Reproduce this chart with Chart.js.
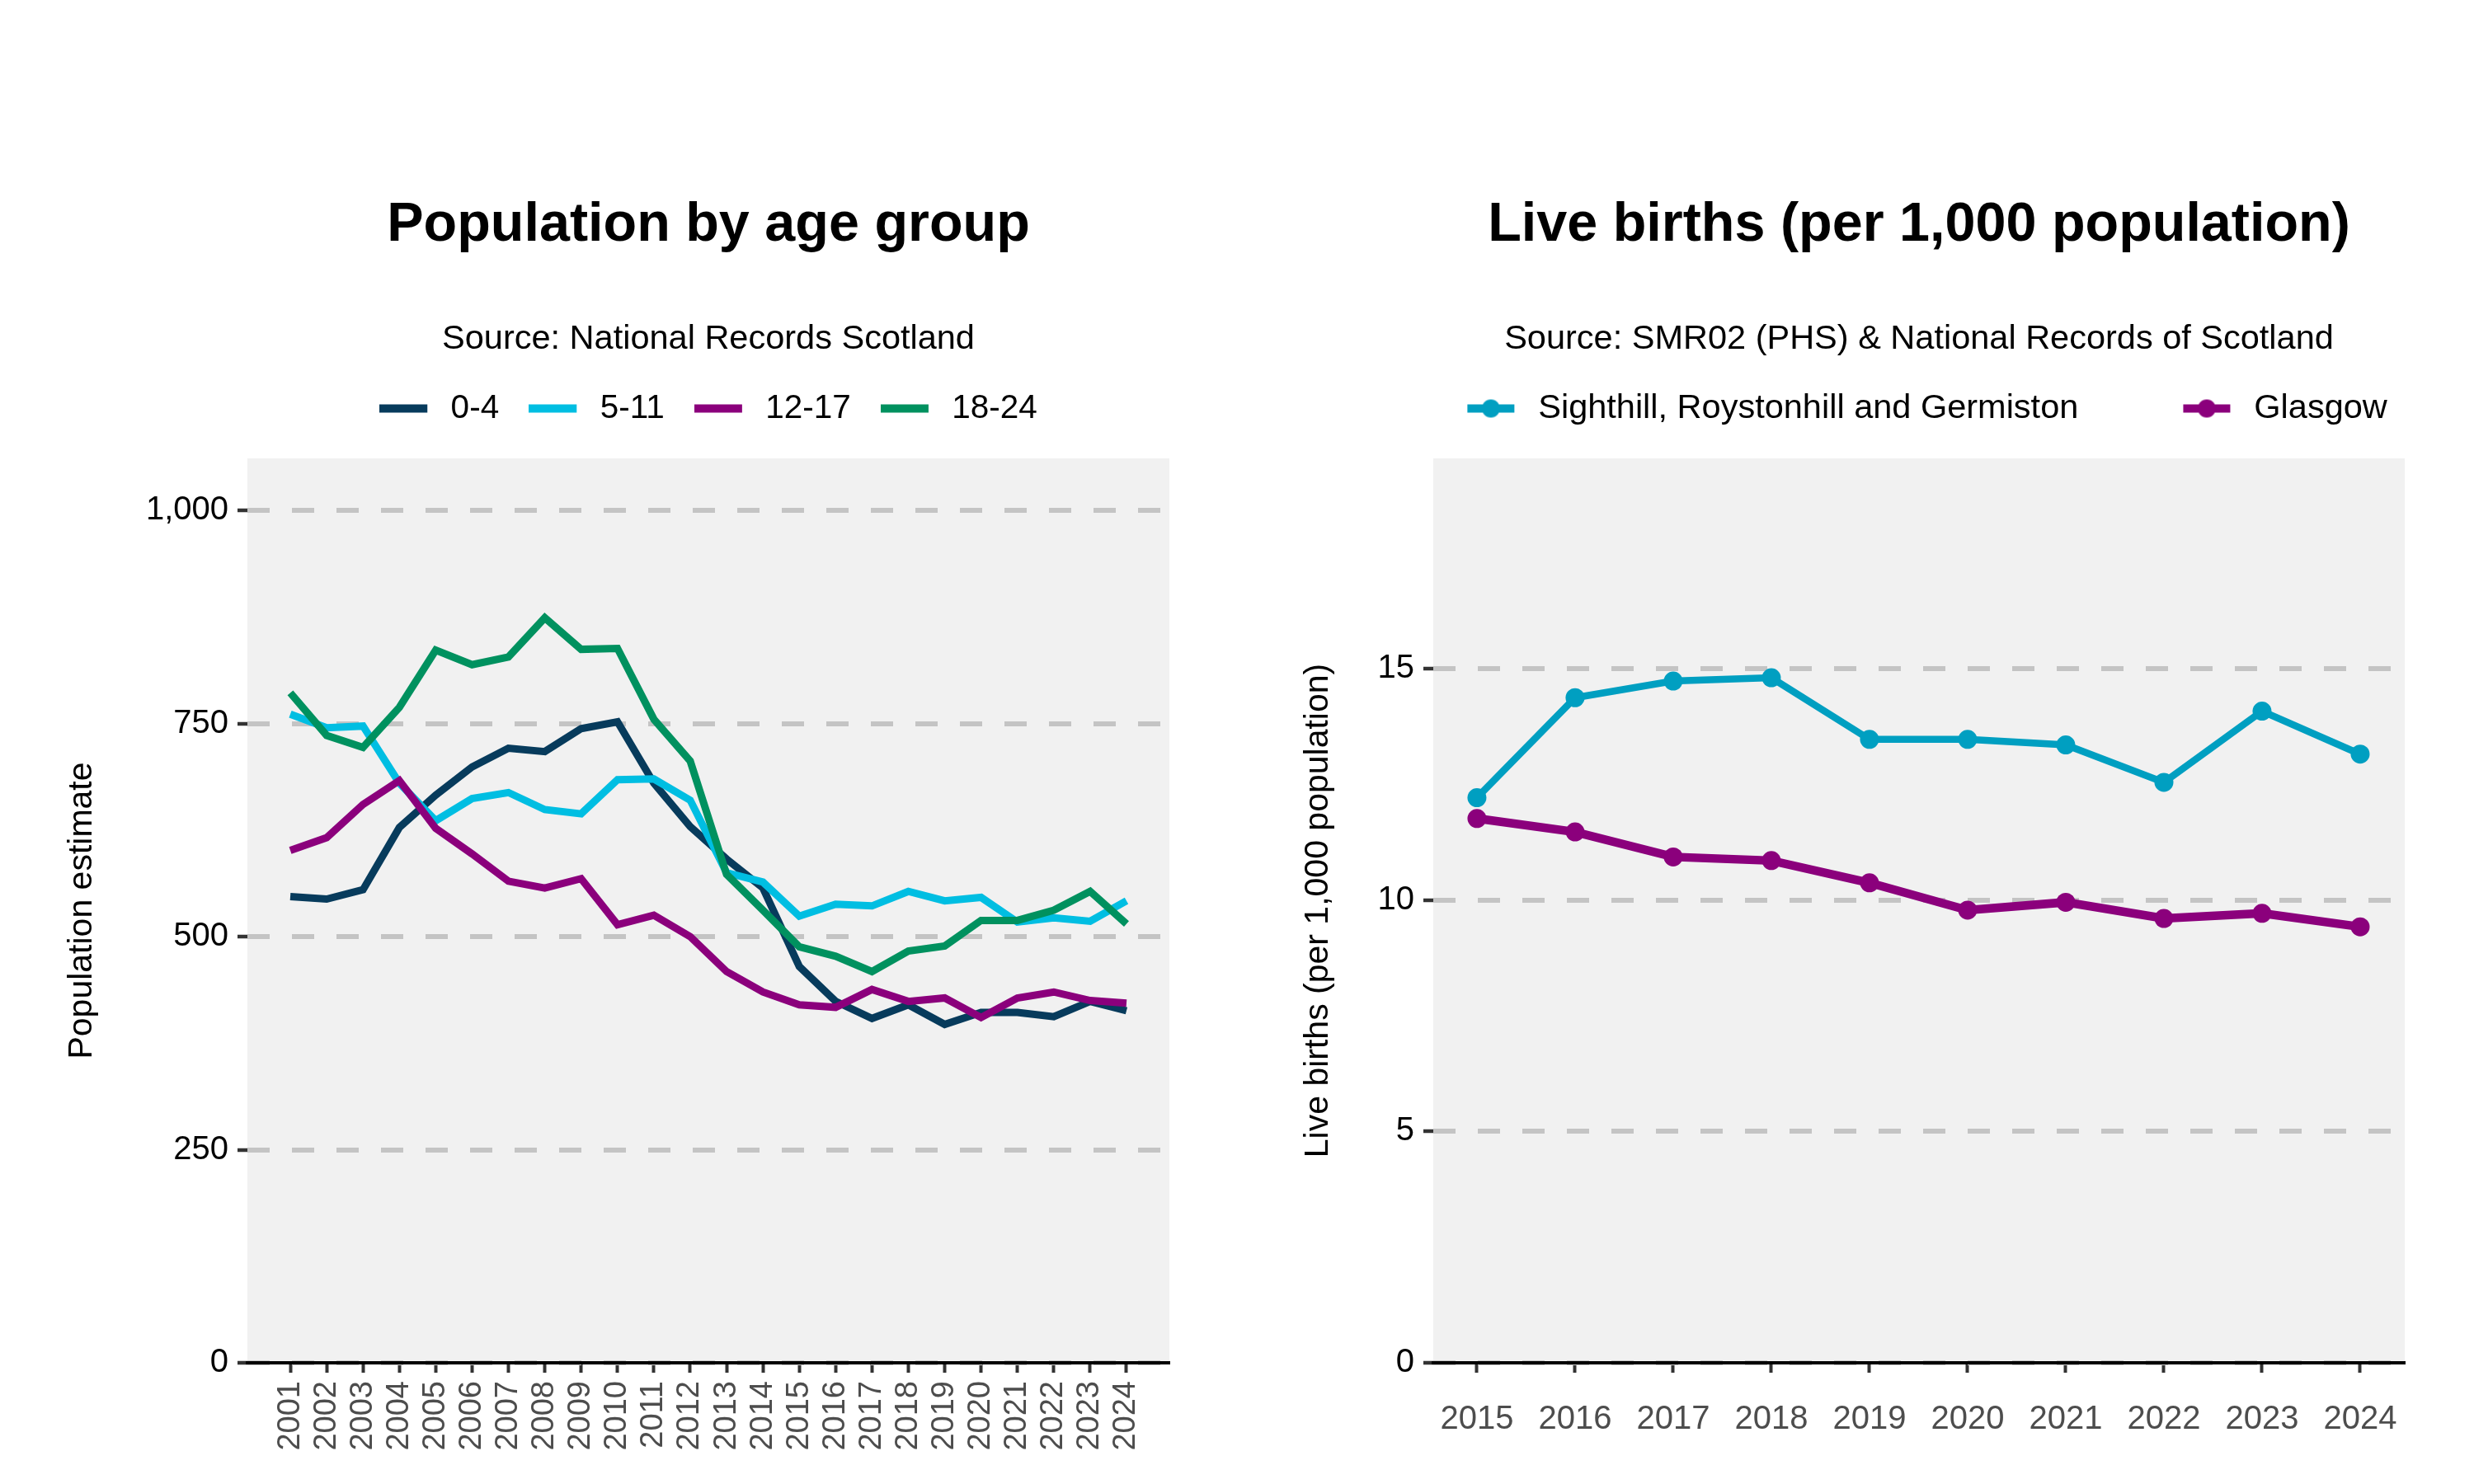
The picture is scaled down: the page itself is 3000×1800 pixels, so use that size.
<!DOCTYPE html>
<html>
<head>
<meta charset="utf-8">
<script src="https://cdn.jsdelivr.net/npm/chart.js@4.4.1/dist/chart.umd.min.js"></script>
<style>
html, body { margin: 0; padding: 0; background: #ffffff; width: 3000px; height: 1800px; overflow: hidden; }
canvas { position: absolute; top: 0; }
#popChart { left: 0; }
#birthChart { left: 1500px; }
</style>
</head>
<body>
<canvas id="popChart" width="1500" height="1800"></canvas>
<canvas id="birthChart" width="1500" height="1800"></canvas>
<script>
// ---------------- Data: Population by age group ----------------
const popYears = [2001, 2002, 2003, 2004, 2005, 2006, 2007, 2008, 2009, 2010, 2011, 2012,
                  2013, 2014, 2015, 2016, 2017, 2018, 2019, 2020, 2021, 2022, 2023, 2024];
const popSeriesNames = ['0-4', '5-11', '12-17', '18-24'];
const pop0to4   = [547, 544, 555, 628, 666, 699, 721, 717, 744, 752, 680, 629, 591, 557, 465, 424, 404, 420, 397, 411, 411, 406, 424, 413];
const pop5to11  = [761, 745, 747, 680, 636, 662, 669, 649, 644, 684, 685, 660, 575, 564, 524, 538, 536, 553, 542, 546, 517, 522, 518, 542];
const pop12to17 = [601, 616, 655, 683, 627, 597, 565, 557, 568, 514, 525, 500, 459, 435, 420, 417, 438, 424, 428, 405, 428, 435, 425, 422];
const pop18to24 = [786, 736, 722, 769, 836, 819, 828, 874, 837, 838, 755, 706, 573, 531, 488, 477, 459, 483, 489, 519, 519, 531, 553, 515];
const popYTicks = [0, 250, 500, 750, 1000];
const popYTickLabels = ['0', '250', '500', '750', '1,000'];

// ---------------- Data: Live births ----------------
const birthYears = [2015, 2016, 2017, 2018, 2019, 2020, 2021, 2022, 2023, 2024];
const birthSeriesNames = ['Sighthill, Roystonhill and Germiston', 'Glasgow'];
const birthsSighthill = [12.21, 14.37, 14.73, 14.80, 13.47, 13.47, 13.35, 12.54, 14.08, 13.15];
const birthsGlasgow   = [11.76, 11.47, 10.93, 10.85, 10.37, 9.78, 9.95, 9.60, 9.71, 9.42];
const birthYTicks = [0, 5, 10, 15];
const birthYTickLabels = ['0', '5', '10', '15'];

// ---------------- Styling ----------------
const FONT = "'Liberation Sans', Arial, Helvetica, sans-serif";
const popColors = ['#073b5c', '#00bee2', '#8b007c', '#00915f'];
const birthColors = ['#009fc1', '#8b007c'];

function lineIcon(color, w, lineStart, lineLen, h, thick, dotR) {
  const c = document.createElement('canvas');
  c.width = w; c.height = h;
  const g = c.getContext('2d');
  g.fillStyle = color;
  g.fillRect(lineStart, (h - thick) / 2, lineLen, thick);
  if (dotR) { g.beginPath(); g.arc(lineStart + lineLen / 2, h / 2, dotR, 0, Math.PI * 2); g.fill(); }
  return c;
}
function blankIcon() { const c = document.createElement('canvas'); c.width = 1; c.height = 1; return c; }

const panelBg = {
  id: 'panelBg',
  beforeDraw(chart) {
    const a = chart.chartArea, ctx = chart.ctx;
    ctx.save();
    ctx.fillStyle = '#f1f1f1';
    ctx.fillRect(a.left, a.top, a.right - a.left, a.bottom - a.top);
    ctx.restore();
  }
};

function toXY(xs, ys) { return xs.map((x, i) => ({ x: x, y: ys[i] })); }

function makeOptions(cfg) {
  return {
    responsive: false,
    animation: false,
    devicePixelRatio: 1,
    events: [],
    layout: { padding: { top: 0, left: 0, right: cfg.padRight, bottom: 0 } },
    plugins: {
      tooltip: { enabled: false },
      title: {
        display: true, text: cfg.title, color: '#000', fullSize: false,
        font: { family: FONT, size: 66.5, weight: 'bold', lineHeight: 1.2 },
        padding: { top: 234.1, bottom: 0 }
      },
      subtitle: {
        display: true, text: cfg.subtitle, color: '#000', fullSize: false,
        font: { family: FONT, size: 41.5, weight: 'normal', lineHeight: 1.2 },
        padding: { top: 72.7, bottom: cfg.subPadBottom }
      },
      legend: {
        display: true, position: 'top', fullSize: false,
        labels: {
          usePointStyle: true, pointStyleWidth: cfg.boxW, padding: cfg.legendPad,
          color: '#000', font: { family: FONT, size: cfg.legendFont },
          generateLabels: cfg.gen
        }
      }
    },
    scales: {
      x: {
        type: 'linear', position: 'bottom', min: cfg.xMin, max: cfg.xMax,
        afterBuildTicks: s => { s.ticks = cfg.xTicks.map(v => ({ value: v })); },
        afterFit: s => { s.height = 147; },
        grid: { display: true, drawOnChartArea: false, drawTicks: true, tickLength: 12, tickColor: '#333333', tickWidth: 4, lineWidth: 1 },
        border: { display: true, color: '#000000', width: 4 },
        ticks: {
          autoSkip: false, minRotation: cfg.xRot, maxRotation: cfg.xRot, padding: cfg.xPad,
          color: '#4d4d4d', font: { family: FONT, size: cfg.xFont },
          callback: v => String(v)
        }
      },
      y: {
        type: 'linear', position: 'left', min: 0, max: cfg.yMax,
        afterBuildTicks: s => { s.ticks = cfg.yTicks.map(v => ({ value: v })); },
        afterFit: s => { s.width = cfg.yWidth; },
        grid: { display: true, color: '#c4c4c4', lineWidth: 6, drawTicks: true, tickLength: 12, tickColor: '#333333', tickWidth: 4.5 },
        border: { display: false, dash: [27, 27] },
        ticks: {
          padding: 11, color: '#000', font: { family: FONT, size: 40 },
          callback: v => cfg.yLabels[cfg.yTicks.indexOf(v)]
        },
        title: {
          display: true, text: cfg.yTitle, color: '#000',
          font: { family: FONT, size: 41, lineHeight: 1.2 },
          padding: { top: cfg.yTitlePad, bottom: 0 }
        }
      },
      gap: {
        type: 'linear', position: 'top', display: true,
        grid: { display: false }, border: { display: false }, ticks: { display: false },
        afterFit: s => { s.height = cfg.gapH; }
      }
    }
  };
}

// ---------------- Chart 1: Population by age group ----------------
const popSeries = [pop0to4, pop5to11, pop12to17, pop18to24];
const popIcons = popColors.map(c => lineIcon(c, 66, 0, 58, 12, 10, 0));
new Chart(document.getElementById('popChart'), {
  type: 'line',
  data: {
    datasets: popSeriesNames.map((name, i) => ({
      label: name,
      data: toXY(popYears, popSeries[i]),
      borderColor: popColors[i],
      backgroundColor: popColors[i],
      borderWidth: 9,
      pointRadius: 0,
      fill: false,
      tension: 0,
      order: popSeriesNames.length - i
    }))
  },
  options: makeOptions({
    padRight: 82,
    title: 'Population by age group',
    subtitle: 'Source: National Records Scotland',
    subPadBottom: 2.85,
    boxW: 66.25,
    legendPad: 36,
    legendFont: 40.5,
    gapH: 30.25,
    gen: chart => chart.data.datasets.map((ds, i) => ({
      text: ds.label, fillStyle: ds.borderColor, strokeStyle: ds.borderColor, lineWidth: 0,
      pointStyle: popIcons[i], hidden: false, datasetIndex: i, fontColor: '#000'
    })),
    xMin: 1999.82, xMax: 2025.18, xTicks: popYears, xRot: 90, xPad: 10, xFont: 38,
    yMax: 1061, yTicks: popYTicks, yLabels: popYTickLabels, yWidth: 300,
    yTitle: 'Population estimate', yTitlePad: 75
  }),
  plugins: [panelBg]
});

// ---------------- Chart 2: Live births ----------------
const birthSeries = [birthsSighthill, birthsGlasgow];
const birthLineWidths = [8.5, 10.5];
const birthIcons = birthColors.map(c => lineIcon(c, 85, 20, 57, 24, 10, 11));
new Chart(document.getElementById('birthChart'), {
  type: 'line',
  data: {
    datasets: birthSeriesNames.map((name, i) => ({
      label: name,
      data: toXY(birthYears, birthSeries[i]),
      borderColor: birthColors[i],
      backgroundColor: birthColors[i],
      pointBackgroundColor: birthColors[i],
      pointBorderWidth: 0,
      pointRadius: 11.5,
      borderWidth: birthLineWidths[i],
      fill: false,
      tension: 0,
      order: birthSeriesNames.length - i
    }))
  },
  options: makeOptions({
    padRight: 84,
    title: 'Live births (per 1,000 population)',
    subtitle: 'Source: SMR02 (PHS) & National Records of Scotland',
    subPadBottom: 37.85,
    boxW: 85.25,
    legendPad: 0.5,
    legendFont: 41.5,
    gapH: 29.75,
    gen: chart => {
      const items = chart.data.datasets.map((ds, i) => ({
        text: ds.label, fillStyle: ds.borderColor, strokeStyle: ds.borderColor, lineWidth: 0,
        pointStyle: birthIcons[i], hidden: false, datasetIndex: i, fontColor: '#000'
      }));
      items.splice(1, 0, { text: '', fillStyle: 'rgba(0,0,0,0)', strokeStyle: 'rgba(0,0,0,0)', lineWidth: 0,
        pointStyle: blankIcon(), hidden: false, fontColor: '#000' });
      return items;
    },
    xMin: 2014.555, xMax: 2024.454, xTicks: birthYears, xRot: 0, xPad: 32.5, xFont: 40,
    yMax: 19.54, yTicks: birthYTicks, yLabels: birthYTickLabels, yWidth: 238,
    yTitle: 'Live births (per 1,000 population)', yTitlePad: 74.4
  }),
  plugins: [panelBg]
});
</script>
</body>
</html>
